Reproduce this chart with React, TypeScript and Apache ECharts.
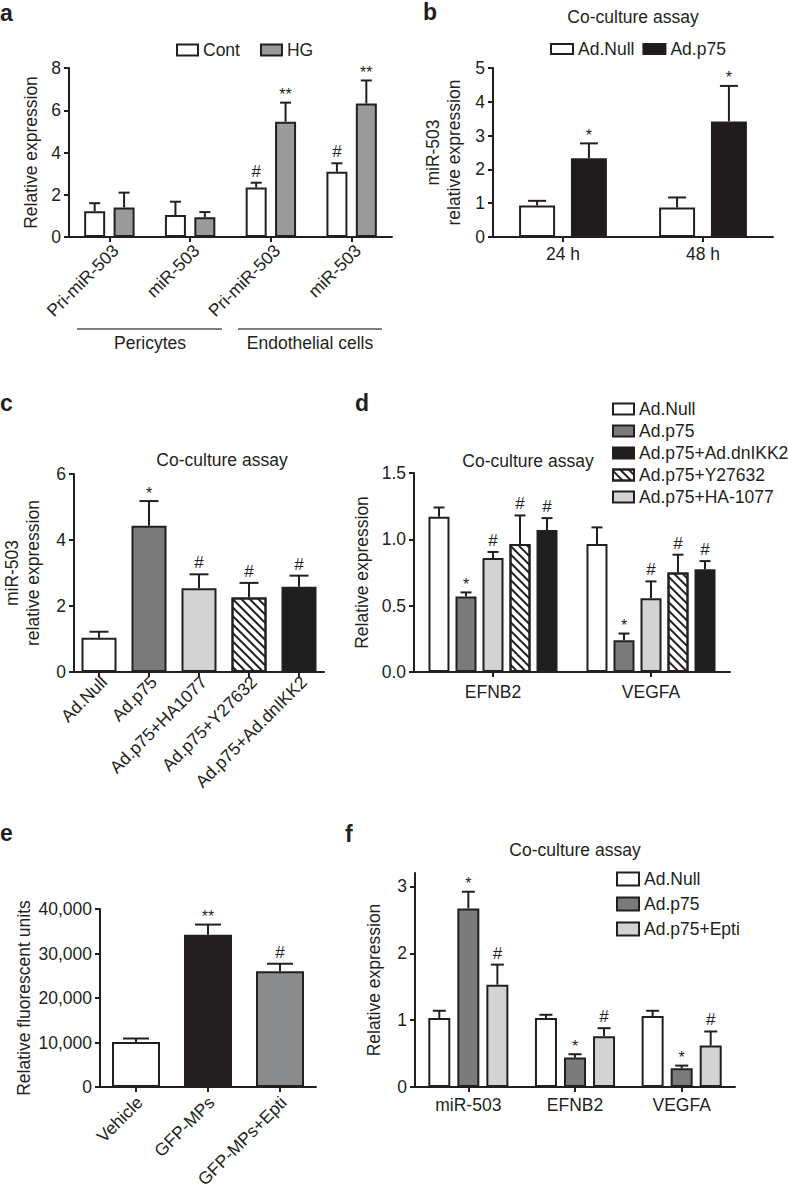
import React, { useEffect, useRef } from 'react';
import * as echarts from 'echarts';

const FONT = '"Liberation Sans", Arial, Helvetica, sans-serif';
const INK = '#231f20';

// ---------------- Panel a ----------------
const aCategories = ['Pri-miR-503', 'miR-503', 'Pri-miR-503', 'miR-503'];
const aGroupLabels = ['Pericytes', 'Endothelial cells'];
const aSeriesNames = ['Cont', 'HG'];
const aCont = [1.22, 1.04, 2.34, 3.09];
const aContErr = [1.6, 1.67, 2.57, 3.49];
const aContSig = ['', '', '#', '#'];
const aHG = [1.4, 0.93, 5.46, 6.32];
const aHGErr = [2.1, 1.18, 6.36, 7.41];
const aHGSig = ['', '', '**', '**'];

// ---------------- Panel b ----------------
const assayTitle = 'Co-culture assay';
const bCategories = ['24 h', '48 h'];
const bSeriesNames = ['Ad.Null', 'Ad.p75'];
const bNull = [0.93, 0.87];
const bNullErr = [1.07, 1.17];
const bNullSig = ['', ''];
const bP75 = [2.33, 3.42];
const bP75Err = [2.77, 4.47];
const bP75Sig = ['*', '*'];

// ---------------- Panel c ----------------
const cCategories = ['Ad.Null', 'Ad.p75', 'Ad.p75+HA1077', 'Ad.p75+Y27632', 'Ad.p75+Ad.dnIKK2'];
const cValues = [1.04, 4.43, 2.54, 2.26, 2.58];
const cErr = [1.22, 5.18, 2.96, 2.7, 2.92];
const cSig = ['', '*', '#', '#', '#'];

// ---------------- Panel d ----------------
const dCategories = ['EFNB2', 'VEGFA'];
const dSeriesNames = ['Ad.Null', 'Ad.p75', 'Ad.p75+HA-1077', 'Ad.p75+Y27632', 'Ad.p75+Ad.dnIKK2'];
const dLegendOrder = ['Ad.Null', 'Ad.p75', 'Ad.p75+Ad.dnIKK2', 'Ad.p75+Y27632', 'Ad.p75+HA-1077'];
const dNull = [1.17, 0.965];
const dNullErr = [1.24, 1.09];
const dNullSig = ['', ''];
const dP75 = [0.57, 0.24];
const dP75Err = [0.6, 0.29];
const dP75Sig = ['*', '*'];
const dHA = [0.86, 0.555];
const dHAErr = [0.905, 0.683];
const dHASig = ['#', '#'];
const dY = [0.965, 0.75];
const dYErr = [1.18, 0.884];
const dYSig = ['#', '#'];
const dIKK = [1.07, 0.774];
const dIKKErr = [1.16, 0.836];
const dIKKSig = ['#', '#'];

// ---------------- Panel e ----------------
const eCategories = ['Vehicle', 'GFP-MPs', 'GFP-MPs+Epti'];
const eValues = [10100, 34200, 26000];
const eErr = [10900, 36500, 27700];
const eSig = ['', '**', '#'];

// ---------------- Panel f ----------------
const fCategories = ['miR-503', 'EFNB2', 'VEGFA'];
const fSeriesNames = ['Ad.Null', 'Ad.p75', 'Ad.p75+Epti'];
const fNull = [1.03, 1.03, 1.06];
const fNullErr = [1.14, 1.08, 1.14];
const fNullSig = ['', '', ''];
const fP75 = [2.67, 0.44, 0.28];
const fP75Err = [2.92, 0.49, 0.32];
const fP75Sig = ['*', '*', '*'];
const fEpti = [1.53, 0.76, 0.62];
const fEptiErr = [1.83, 0.88, 0.83];
const fEptiSig = ['#', '#', '#'];
const fTicks = [0, 1, 2, 3];

const HATCH = {
  symbol: 'rect',
  symbolSize: 1,
  color: INK,
  dashArrayX: [1, 0],
  dashArrayY: [1.6, 3.2],
  rotation: Math.PI / 4,
};

function buildOption() {
  const grid: any[] = [];
  const xAxis: any[] = [];
  const yAxis: any[] = [];
  const series: any[] = [];
  const legend: any[] = [];
  const graphic: any[] = [];

  const lineStyle = { color: INK, width: 2 };
  const txt = { color: INK, fontSize: 17.5, fontFamily: FONT };

  function axes(g: number[], cats: string[], y: any, x: any) {
    const gi = grid.length;
    grid.push({ left: g[0], top: g[1], width: g[2], height: g[3] });
    const lab: any = { ...txt, interval: 0, rotate: x.rotate || 0, margin: x.margin };
    if (x.shift) lab.padding = [0, -x.shift, 0, 0];
    xAxis.push({
      type: 'category',
      gridIndex: gi,
      data: cats,
      axisLine: { show: true, lineStyle },
      axisTick: { show: true, alignWithLabel: true, length: 5, lineStyle },
      axisLabel: lab,
      splitLine: { show: false },
    });
    const tickExtra = y.ticks ? { customValues: y.ticks } : {};
    yAxis.push({
      type: 'value',
      gridIndex: gi,
      min: y.min,
      max: y.max,
      interval: y.interval,
      name: y.name,
      nameLocation: 'middle',
      nameGap: y.nameGap,
      nameTextStyle: { ...txt, lineHeight: 21 },
      axisLine: { show: true, onZero: false, lineStyle },
      axisTick: { show: true, length: 5, lineStyle, ...tickExtra },
      axisLabel: { ...txt, margin: 8, formatter: y.fmt, ...tickExtra },
      splitLine: { show: false },
    });
    return gi;
  }

  function errSeries(gi: number, vals: number[], errs: number[], sigs: string[], offset: number, capW: number) {
    return {
      type: 'custom',
      xAxisIndex: gi,
      yAxisIndex: gi,
      silent: true,
      z: 3,
      data: vals.map((v, i) => [i, v, errs[i]]),
      encode: { x: 0, y: [1, 2] },
      renderItem: (params: any, api: any) => {
        const i = api.value(0);
        const base = api.coord([i, api.value(1)]);
        const top = api.coord([i, api.value(2)]);
        const x = base[0] + offset;
        const sig = sigs[params.dataIndex];
        const children: any[] = [
          { type: 'line', shape: { x1: x, y1: base[1], x2: x, y2: top[1] }, style: { stroke: INK, lineWidth: 2 } },
          { type: 'line', shape: { x1: x - capW / 2, y1: top[1], x2: x + capW / 2, y2: top[1] }, style: { stroke: INK, lineWidth: 2 } },
        ];
        if (sig) {
          const isStar = sig.indexOf('*') >= 0;
          children.push({
            type: 'text',
            x,
            y: top[1] - (isStar ? 0 : 3),
            style: {
              text: sig,
              fill: INK,
              fontSize: isStar ? 16 : 17,
              fontFamily: FONT,
              align: 'center',
              verticalAlign: 'bottom',
              textAlign: 'center',
              textVerticalAlign: 'bottom',
            },
          });
        }
        return { type: 'group', children };
      },
    };
  }

  function addBars(gi: number, bars: any[], width: number, gapPct: number, capW: number) {
    const n = bars.length;
    const stride = width * (1 + gapPct);
    bars.forEach((b) => {
      const itemStyle: any = { color: b.color, borderColor: INK, borderWidth: 2 };
      if (b.decal) itemStyle.decal = b.decal;
      series.push({
        type: 'bar',
        name: b.id,
        xAxisIndex: gi,
        yAxisIndex: gi,
        data: b.values,
        barWidth: width,
        barGap: gapPct * 100 + '%',
        itemStyle,
        silent: true,
      });
    });
    bars.forEach((b, i) => {
      series.push(errSeries(gi, b.values, b.err, b.sig, (i - (n - 1) / 2) * stride, capW));
    });
  }

  function addLegend(names: string[], left: number, top: number, orient: string, iw: number, ih: number, gap: number) {
    legend.push({
      data: names,
      left,
      top,
      orient,
      itemWidth: iw,
      itemHeight: ih,
      itemGap: gap,
      icon: 'rect',
      selectedMode: false,
      padding: 0,
      textStyle: { ...txt },
      formatter: (nm: string) => nm.split('|')[0],
      itemStyle: { borderColor: INK, borderWidth: 2 },
    });
  }

  function label(text: string, x: number, y: number, font: string, align = 'center') {
    graphic.push({
      type: 'text',
      x,
      y,
      silent: true,
      style: { text, fill: INK, font, textAlign: align, textVerticalAlign: 'middle', align, verticalAlign: 'middle' },
    });
  }

  const BOLD = `bold 23px ${FONT}`;
  const REG = `17.5px ${FONT}`;

  // ---------- a ----------
  const gA = axes([69, 68, 323, 169], aCategories, { min: 0, max: 8, interval: 2, name: 'Relative expression', nameGap: 28 }, { rotate: 45, margin: 17, shift: 9 });
  addBars(gA, [
    { id: aSeriesNames[0] + '|a', values: aCont, err: aContErr, sig: aContSig, color: '#ffffff' },
    { id: aSeriesNames[1] + '|a', values: aHG, err: aHGErr, sig: aHGSig, color: '#9a9a9a' },
  ], 21, 0.4, 11);
  addLegend(aSeriesNames.map((s) => s + '|a'), 176, 41, 'horizontal', 21, 11, 20);
  label('a', 0, 13, BOLD, 'left');
  graphic.push({ type: 'line', shape: { x1: 77, y1: 329, x2: 222, y2: 329 }, style: { stroke: '#555', lineWidth: 1.5 } });
  graphic.push({ type: 'line', shape: { x1: 238, y1: 329, x2: 382, y2: 329 }, style: { stroke: '#555', lineWidth: 1.5 } });
  label(aGroupLabels[0], 150, 343, REG);
  label(aGroupLabels[1], 310, 343, REG);

  // ---------- b ----------
  const gB = axes([493, 68, 280, 169], bCategories, { min: 0, max: 5, interval: 1, name: 'miR-503\nrelative expression', nameGap: 29 }, { margin: 8 });
  addBars(gB, [
    { id: bSeriesNames[0] + '|b', values: bNull, err: bNullErr, sig: bNullSig, color: '#ffffff' },
    { id: bSeriesNames[1] + '|b', values: bP75, err: bP75Err, sig: bP75Sig, color: '#1f1a1b' },
  ], 36, 0.44, 18);
  addLegend(bSeriesNames.map((s) => s + '|b'), 550, 40, 'horizontal', 22, 10, 8);
  label('b', 423, 12, BOLD, 'left');
  label(assayTitle, 633, 17, REG);

  // ---------- c ----------
  const gC = axes([70, 474, 254, 198], cCategories, { min: 0, max: 6, interval: 2, name: 'miR-503\nrelative expression', nameGap: 31 }, { rotate: 45, margin: 12, shift: 7 });
  const cColors = ['#ffffff', '#7b7b7b', '#d3d3d3', '#ffffff', '#1e1e1e'];
  cValues.forEach((v, k) => {
    const itemStyle: any = { color: cColors[k], borderColor: INK, borderWidth: 2 };
    if (k === 3) itemStyle.decal = HATCH;
    series.push({
      type: 'bar',
      name: 'c' + k,
      xAxisIndex: gC,
      yAxisIndex: gC,
      data: cValues.map((vv, j) => (j === k ? vv : '-')),
      barWidth: 35,
      barGap: '-100%',
      itemStyle,
      silent: true,
    });
  });
  series.push(errSeries(gC, cValues, cErr, cSig, 0, 19));
  label('c', 0, 403, BOLD, 'left');
  label(assayTitle, 222, 460, REG);

  // ---------- d ----------
  const gD = axes([414, 473, 316, 199], dCategories, { min: 0, max: 1.5, interval: 0.5, name: 'Relative expression', nameGap: 42, fmt: (v: number) => v.toFixed(1) }, { margin: 11 });
  addBars(gD, [
    { id: dSeriesNames[0] + '|d', values: dNull, err: dNullErr, sig: dNullSig, color: '#ffffff' },
    { id: dSeriesNames[1] + '|d', values: dP75, err: dP75Err, sig: dP75Sig, color: '#7b7b7b' },
    { id: dSeriesNames[2] + '|d', values: dHA, err: dHAErr, sig: dHASig, color: '#d3d3d3' },
    { id: dSeriesNames[3] + '|d', values: dY, err: dYErr, sig: dYSig, color: '#ffffff', decal: HATCH },
    { id: dSeriesNames[4] + '|d', values: dIKK, err: dIKKErr, sig: dIKKSig, color: '#1e1e1e' },
  ], 21, 0.286, 11);
  addLegend(dLegendOrder.map((s) => s + '|d'), 612, 400, 'vertical', 21, 11, 4);
  label('d', 355, 403, BOLD, 'left');
  label(assayTitle, 528, 461, REG);

  // ---------- e ----------
  const gE = axes([100, 909, 216, 178], eCategories, { min: 0, max: 40000, interval: 10000, name: 'Relative fluorescent units', nameGap: 64, fmt: (v: number) => v.toLocaleString('en-US') }, { rotate: 45, margin: 16, shift: 5 });
  const eColors = ['#ffffff', '#231f20', '#8a8b8d'];
  eValues.forEach((v, k) => {
    series.push({
      type: 'bar',
      name: 'e' + k,
      xAxisIndex: gE,
      yAxisIndex: gE,
      data: eValues.map((vv, j) => (j === k ? vv : '-')),
      barWidth: 48,
      barGap: '-100%',
      itemStyle: { color: eColors[k], borderColor: INK, borderWidth: 2 },
      silent: true,
    });
  });
  series.push(errSeries(gE, eValues, eErr, eSig, 0, 26));
  label('e', 0, 833, BOLD, 'left');

  // ---------- f ----------
  const gF = axes([415, 873, 320, 214], fCategories, { min: 0, max: 3.2, interval: 1, ticks: fTicks, name: 'Relative expression', nameGap: 31, fmt: (v: number) => (Number.isInteger(v) ? String(v) : '') }, { margin: 9 });
  addBars(gF, [
    { id: fSeriesNames[0] + '|f', values: fNull, err: fNullErr, sig: fNullSig, color: '#ffffff' },
    { id: fSeriesNames[1] + '|f', values: fP75, err: fP75Err, sig: fP75Sig, color: '#7b7b7b' },
    { id: fSeriesNames[2] + '|f', values: fEpti, err: fEptiErr, sig: fEptiSig, color: '#d3d3d3' },
  ], 22, 0.32, 13);
  addLegend(fSeriesNames.map((s) => s + '|f'), 616, 870, 'vertical', 22, 13, 7);
  label('f', 345, 834, BOLD, 'left');
  label(assayTitle, 575, 850, REG);

  return {
    animation: false,
    backgroundColor: '#ffffff',
    textStyle: { fontFamily: FONT },
    grid,
    xAxis,
    yAxis,
    legend,
    series,
    graphic,
  };
}

export default function App() {
  const ref = useRef<HTMLDivElement>(null);
  useEffect(() => {
    if (!ref.current) return;
    const chart = echarts.init(ref.current, null, { renderer: 'svg', width: 788, height: 1192 });
    chart.setOption(buildOption() as any);
    return () => chart.dispose();
  }, []);
  return (
    <div
      ref={ref}
      style={{ position: 'fixed', left: 0, top: 0, width: 788, height: 1192, background: '#ffffff' }}
    />
  );
}
